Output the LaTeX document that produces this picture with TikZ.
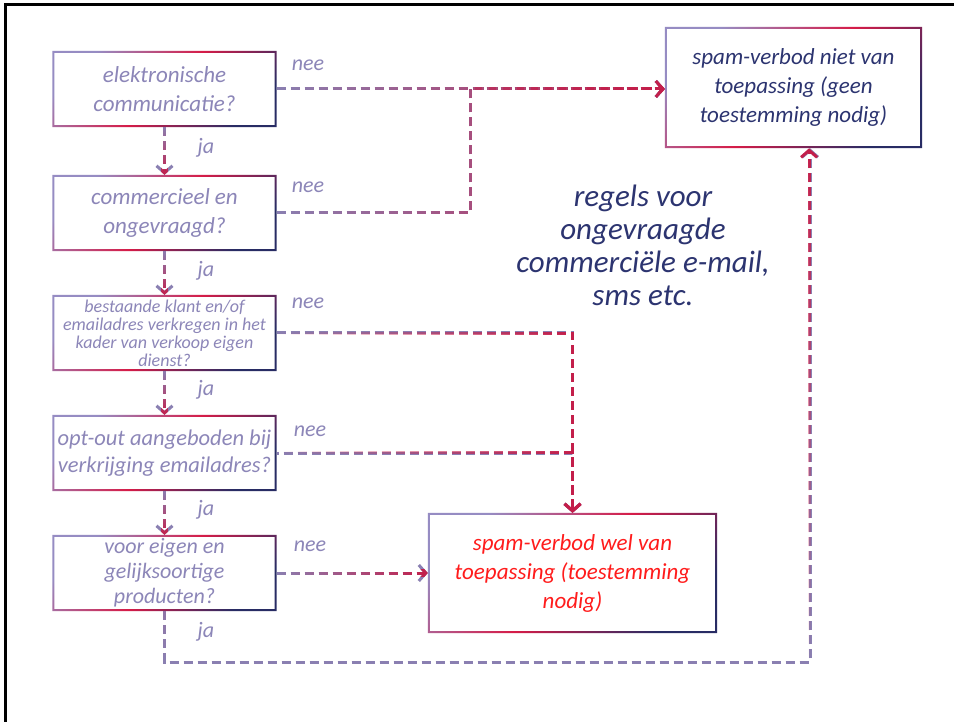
\documentclass[tikz,border=0pt]{standalone}
\usepackage{fontspec}
\setmainfont{Carlito}
\usetikzlibrary{arrows.meta,fadings,calc}
\definecolor{lav}{RGB}{150,140,195}
\definecolor{crim}{RGB}{214,28,72}
\definecolor{navy}{RGB}{40,44,100}
\definecolor{lavline}{RGB}{138,128,178}
\definecolor{crimline}{RGB}{196,30,74}
\definecolor{qtext}{RGB}{140,134,184}
\definecolor{navytext}{RGB}{44,52,112}
\definecolor{redtext}{RGB}{255,28,28}
\tikzfading[name=fadeR, left color=transparent!100, right color=transparent!0]
\tikzfading[name=fadeD, top color=transparent!100, bottom color=transparent!0]
\tikzfading[name=fadeU, top color=transparent!0, bottom color=transparent!100]
\newcommand\gradframe[1]{%
  \shade[even odd rule, top color=lav, bottom color=navy, middle color=crim, shading angle=45]
    (#1.north west) rectangle (#1.south east)
    ([xshift=2pt,yshift=-2pt]#1.north west) rectangle ([xshift=-2pt,yshift=2pt]#1.south east);}
\begin{document}
\begin{tikzpicture}[x=1pt,y=-1pt,
  qbox/.style={rectangle, minimum width=224pt, minimum height=76pt, inner sep=0pt, align=center, text=qtext, font=\fontsize{23}{29}\selectfont\itshape},
  rbox/.style={rectangle, inner sep=0pt, align=center, font=\fontsize{23}{29}\selectfont\itshape},
  lbl/.style={text=qtext, font=\fontsize{22}{26}\selectfont\itshape, inner sep=0pt},
  conn/.style={line width=3pt, dash pattern=on 9pt off 5pt, lavline},
  tipa/.style={-{Straight Barb[length=7pt,width=16pt,line width=3pt]}},
  over/.style={line width=3pt, dash pattern=on 9pt off 5pt, crimline}]
\useasboundingbox (0,0) rectangle (954,722);
\fill[white] (0,0) rectangle (954,722);
\draw[line width=3pt, black] (5,722) -- (5,5) -- (954,5);

% question boxes
\node[qbox] (B1) at (164.5,89) {elektronische\\communicatie?};
\node[qbox] (B2) at (164.5,213) {commercieel en\\ongevraagd?};
\node[qbox, font=\fontsize{18}{18}\selectfont\itshape] (B3) at (164.5,333) {bestaande klant en/of\\emailadres verkregen in het\\kader van verkoop eigen\\dienst?};
\node[qbox, font=\fontsize{22.5}{27}\selectfont\itshape] (B4) at (164.5,453) {opt-out aangeboden bij\\verkrijging emailadres?};
\node[qbox, font=\fontsize{22}{25}\selectfont\itshape] (B5) at (164.5,573) {voor eigen en\\gelijksoortige\\producten?};
% result boxes
\node[rbox, minimum width=257pt, minimum height=121pt, text=navytext] (B6) at (793.5,87.5) {spam-verbod niet van\\toepassing (geen\\toestemming nodig)};
\node[rbox, minimum width=289pt, minimum height=120pt, text=redtext] (B7) at (572.5,573) {spam-verbod wel van\\toepassing (toestemming\\nodig)};

\foreach \b in {B1,B2,B3,B4,B5,B6,B7} {\gradframe{\b}}

% title
\node[align=center, text=navytext, font=\fontsize{31}{33}\selectfont\itshape] (T) at (643,245) {regels voor\\ongevraagde\\commerciële e-mail,\\sms etc.};

% labels
\node[lbl] (n1) at (308,65) {nee};
\node[lbl] (n2) at (308,187) {nee};
\node[lbl] (n3) at (308,303) {nee};
\node[lbl] (n4) at (310,431) {nee};
\node[lbl] (n5) at (310,546) {nee};
\node[lbl] (j1) at (206,148) {ja};
\node[lbl] (j2) at (206,271) {ja};
\node[lbl] (j3) at (206,390) {ja};
\node[lbl] (j4) at (206,510) {ja};
\node[lbl] (j5) at (206,632) {ja};

% coordinates
\coordinate (k1) at (470,89);
\coordinate (t6) at (B6.west |- k1);
\coordinate (c5) at (810,662);

% connectors: base lavender
\draw[conn,tipa] (B1.east) -- (t6);
\draw[conn,tipa] (B2.east) -| (k1) -- (t6);
\draw[conn,tipa] (B3.east) -| (B7.north);
\draw[conn,tipa,dash phase=7pt] (B4.east) -| (B7.north);
\draw[conn,tipa] (B5.east) -- (B7.west);
\draw[conn,tipa] (B5.south) |- (c5) -- (c5 |- B6.south);
\foreach \a/\b in {B1/B2,B2/B3,B3/B4,B4/B5} {\draw[conn,tipa] (\a.south) -- (\b.north);}

% connectors: crimson overlay
\draw[over,tipa,path fading=fadeR] (B1.east) -- (t6);
\draw[over,tipa,path fading=fadeR] (B2.east) -| (k1) -- (t6);
\draw[over,tipa,path fading=fadeR] (B3.east) -| (B7.north);
\draw[over,tipa,dash phase=7pt,path fading=fadeR] (B4.east) -| (B7.north);
\draw[over,tipa,path fading=fadeR] (B5.east) -- (B7.west);
\draw[over,tipa,path fading=fadeU] (B5.south) |- (c5) -- (c5 |- B6.south);
\foreach \a/\b in {B1/B2,B2/B3,B3/B4,B4/B5} {\draw[over,tipa,path fading=fadeD] (\a.south) -- (\b.north);}
\end{tikzpicture}
\end{document}
